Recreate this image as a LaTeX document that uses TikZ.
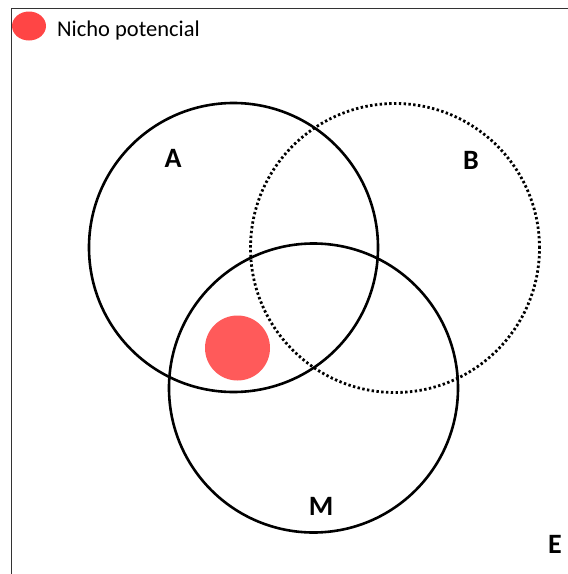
\documentclass[tikz,border=0pt]{standalone}
\usepackage{fontspec}
\setmainfont{Carlito}
\definecolor{nichered}{RGB}{255,90,90}
\definecolor{legendred}{RGB}{255,69,69}
\begin{document}
\begin{tikzpicture}[x=1pt,y=-1pt,
  setcircle/.style={draw=black,line width=2.6pt,circle,minimum size=289pt,inner sep=0pt},
  dottedcircle/.style={setcircle,line width=2.8pt,dash pattern=on 2.4pt off 2.4pt},
  setlabel/.style={font=\fontsize{28}{32}\selectfont\bfseries,inner sep=0pt}]
\useasboundingbox (0,0) rectangle (568,574);
\fill[white] (0,0) rectangle (568,574);
\draw[line width=1.4pt,draw=black!80] (11.5,574) -- (11.5,8.5) -- (568,8.5);
\node[setcircle] (A) at (233.5,247.5) {};
\node[dottedcircle] (B) at (395,248) {};
\node[setcircle] (M) at (313.5,388) {};
\node[setlabel] (la) at (173,158) {A};
\node[setlabel] (lb) at (471,160) {B};
\node[setlabel] (lm) at (321,506) {M};
\node[setlabel] (le) at (555,544) {E};
\fill[nichered] (237.5,348) circle [radius=32.5];
\fill[legendred] (29,26) ellipse [x radius=17, y radius=14.5];
\node[anchor=west,font=\fontsize{22.5}{26}\selectfont,inner sep=0pt] (legtxt) at (57,30) {Nicho potencial};
\end{tikzpicture}
\end{document}
